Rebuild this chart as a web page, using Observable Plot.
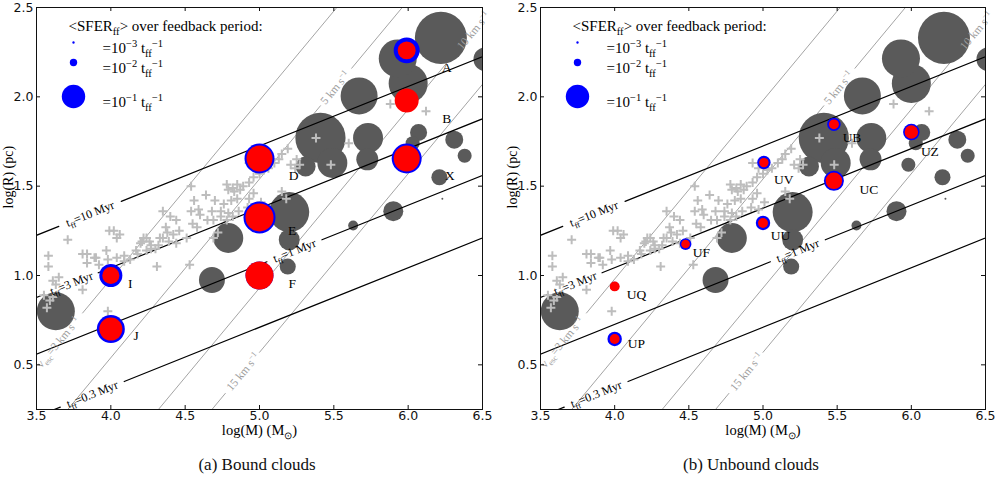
<!DOCTYPE html>
<html><head><meta charset="utf-8">
<script src="https://cdn.jsdelivr.net/npm/d3@7"></script>
<script src="https://cdn.jsdelivr.net/npm/@observablehq/plot@0.6"></script>
<style>
body{margin:0;background:#fff;}
#wrap{position:relative;width:997px;height:482px;overflow:hidden;background:#fff}
.panel{position:absolute;top:0}
.cap{position:absolute;top:455px;width:300px;text-align:center;font-family:"Liberation Serif",serif;font-size:17px;color:#111}
</style></head><body>
<div id="wrap">
<div class="panel" id="pa" style="left:0"></div>
<div class="panel" id="pb" style="left:500px"></div>
<div class="cap" style="left:107px">(a) Bound clouds</div>
<div class="cap" style="left:601px">(b) Unbound clouds</div>
</div>
<script>
// ---------- data (log M [Msun], log R [pc], SFER per t_ff) ----------
const xTicks = [3.5, 4.0, 4.5, 5.0, 5.5, 6.0, 6.5];
const yTicks = [0.5, 1.0, 1.5, 2.0, 2.5];

// simulated clouds shown as grey discs: [logM, logR, SFER]
const greyClouds = [
  [6.22, 2.33, 0.494], [5.93, 2.215, 0.264], [6.00, 2.075, 0.278], [5.67, 2.005, 0.25],
  [6.52, 2.21, 0.105], [5.41, 1.77, 0.46], [5.73, 1.77, 0.164], [5.725, 1.65, 0.088],
  [5.49, 1.63, 0.164], [5.31, 1.61, 0.073], [6.07, 1.80, 0.053], [6.03, 1.74, 0.036],
  [6.31, 1.76, 0.059], [6.38, 1.67, 0.036], [6.21, 1.55, 0.047], [5.90, 1.36, 0.073],
  [5.63, 1.28, 0.018], [6.23, 1.43, 0.0007], [5.20, 1.355, 0.292], [5.20, 1.20, 0.080],
  [5.19, 1.05, 0.047], [4.79, 1.21, 0.164], [4.68, 0.975, 0.123], [3.63, 0.80, 0.264],
  [5.98, 1.62, 0.036]
];

// observed clouds (plus markers): [logM, logR]
const observed = [
  [3.71,1.20],[3.58,1.11],[3.81,1.12],[3.84,1.07],[3.89,1.10],[3.92,1.06],[3.97,1.14],[3.98,1.09],
  [4.04,1.10],[4.09,1.11],[4.13,1.09],[4.17,1.14],[4.20,1.18],[4.22,1.21],[4.26,1.19],[4.27,1.15],
  [4.32,1.17],[4.35,1.21],[4.39,1.19],[4.42,1.23],[4.44,1.18],[4.51,1.21],[4.02,1.25],[4.06,1.23],
  [3.65,0.99],[3.61,0.97],[3.63,0.95],[3.55,0.89],[3.59,0.86],[3.57,0.82],[3.61,0.88],[3.98,0.80],
  [3.81,0.92],[4.53,1.06],[3.58,1.05],
  [4.54,1.50],[4.64,1.45],[4.78,1.51],[4.82,1.49],[4.85,1.51],[4.87,1.48],[4.83,1.47],[4.79,1.48],
  [4.89,1.50],[4.93,1.52],[4.96,1.55],[5.00,1.57],[5.03,1.59],[5.06,1.60],[5.10,1.63],[5.13,1.65],
  [5.15,1.68],[5.19,1.71],[4.93,1.43],[4.96,1.46],[5.01,1.41],[4.81,1.42],[4.85,1.43],[4.76,1.40],
  [4.56,1.42],[4.59,1.37],[4.54,1.36],[4.60,1.34],[4.35,1.36],[4.40,1.33],[4.44,1.31],[4.37,1.27],
  [3.99,1.25],[4.04,1.21],[4.74,1.36],[4.79,1.35],[4.86,1.36],[4.92,1.38],[4.97,1.37],[4.65,1.31],
  [4.69,1.31],[4.74,1.33],[4.78,1.31],[4.82,1.33],[4.55,1.29],[4.58,1.27],[4.46,1.25],[4.38,1.24],
  [4.33,1.21],[4.24,1.21],[4.21,1.19],[4.27,1.17],[4.30,1.15],[4.24,1.14],[4.18,1.12],[4.09,1.08],
  [4.31,1.05],[4.69,1.21],[4.72,1.24],[5.15,1.47],[5.18,1.43],[5.21,1.62],[4.70,1.42],[4.68,1.36],
  [5.38,1.77],[5.48,1.62],[5.60,1.74],[5.88,1.96],[6.12,1.92],[5.25,1.65],[5.27,1.62],[5.24,1.60],
  [4.93,1.63],[4.97,1.60],[3.90,1.10],[3.84,1.12]
];

// bound clouds (panel a)
const boundNames = ["A", "B", "X", "D", "E", "F", "I", "J"];
const boundM     = [5.99, 5.99, 5.99, 5.00, 5.00, 5.00, 4.00, 4.00];
const boundR     = [2.26, 1.98, 1.655, 1.655, 1.325, 1.00, 1.00, 0.70];
const boundBlue  = [0.123, 0.09, 0.164, 0.164, 0.187, 0.143, 0.097, 0.143];
const boundRed   = [0.059, 0.105, 0.123, 0.123, 0.143, 0.143, 0.053, 0.097];
const boundLabM  = [6.26, 6.26, 6.28, 5.23, 5.22, 5.22, 4.13, 4.17];
const boundLabR  = [2.163, 1.88, 1.558, 1.558, 1.25, 0.952, 0.956, 0.664];

// unbound clouds (panel b)
const unboundNames = ["UB", "UC", "UZ", "UV", "UU", "UF", "UQ", "UP"];
const unboundM     = [5.478, 5.478, 6.00, 5.006, 5.00, 4.478, 4.00, 4.00];
const unboundR     = [1.846, 1.53, 1.803, 1.632, 1.294, 1.176, 0.939, 0.645];
const unboundBlue  = [0.033, 0.073, 0.050, 0.033, 0.038, 0.025, 0.015, 0.038];
const unboundRed   = [0.018, 0.050, 0.033, 0.016, 0.018, 0.0135, 0.018, 0.018];
const unboundLabM  = [5.60, 5.714, 6.125, 5.14, 5.118, 4.584, 4.147, 4.147];
const unboundLabR  = [1.77, 1.483, 1.693, 1.539, 1.222, 1.126, 0.893, 0.62];

// free-fall time lines: logR at logM=3.5 and 6.5, label gap (logM)
const tffLabels = ["t_{ff}=10 Myr", "t_{ff}=3 Myr", "t_{ff}=1 Myr", "t_{ff}=0.3 Myr"];
const tffR35 = [1.225, 0.877, 0.56, 0.21];
const tffR65 = [2.225, 1.877, 1.56, 1.21];
const tffGap = [[3.65, 4.07], [3.555, 3.915], [5.05, 5.42], [3.66, 4.09]];

// velocity lines: logM where they cross logR=0.25 and logR=2.5, label gap and label position
const velLabels = ["v_{esc}=3 km s^{−1}", "5 km s^{−1}", "10 km s^{−1}", "15 km s^{−1}"];
const velMBot = [3.27, 3.71, 4.32, 4.68];
const velMTop = [5.52, 5.96, 6.57, 6.93];
const velGap  = [[3.40, 3.81], [5.41, 5.62], [6.32, 7.2], [4.77, 5.00]];
const velLabM = [3.646, 5.51, 6.44, 4.89];

// legend
const legendTitle = "<SFER_{ff}> over feedback period:";
const legendSFER = [0.001, 0.01, 0.1];
const legendText = ["=10^{−3} t_{ff}^{−1}", "=10^{−2} t_{ff}^{−1}", "=10^{−1} t_{ff}^{−1}"];

// ---------- layout / style ----------
const W = 497, H = 442, MT = 7, MB = 33, PH = H - MT - MB;
const SERIF = "Liberation Serif";
const legendDy = [35, 55, 89];

const tff = tffLabels.map((label, i) => ({label, r0: tffR35[i], r1: tffR65[i], gap: tffGap[i]}));
const rTff = (l, m) => l.r0 + (m - 3.5) * (l.r1 - l.r0) / 3;
const tffSegs = tff.flatMap((l, i) => [[3.3, l.gap[0]], [l.gap[1], 6.7]]
  .flatMap(([a, b], j) => [a, b].map(m => ({M: m, R: rTff(l, m), id: i + "-" + j}))));
const tffLab = tff.map(l => { const m = (l.gap[0] + l.gap[1]) / 2; return {label: l.label, M: m, R: rTff(l, m)}; });

const vel = velLabels.map((label, i) => ({label, mb: velMBot[i], mt: velMTop[i], gap: velGap[i], lm: velLabM[i]}));
const rVel = (l, m) => 0.25 + (m - l.mb) * 2.25 / (l.mt - l.mb);
const velSegs = vel.flatMap((l, i) => [[3.0, l.gap[0]], [l.gap[1], 7.2]]
  .filter(([a, b]) => b > a)
  .flatMap(([a, b], j) => [a, b].map(m => ({M: m, R: rVel(l, m), id: i + "-" + j}))));
const velLab = vel.map(l => ({label: l.label, M: l.lm, R: rVel(l, l.lm)}));

const grey = greyClouds.map(([M, R, s]) => ({M, R, s}));
const obs = observed.map(([M, R]) => ({M, R}));

function pts(names, M, R, B, Rd, LM, LR) {
  return names.map((n, i) => ({n, M: M[i], R: R[i], blue: B[i], red: Rd[i], lm: LM[i], lr: LR[i]}));
}
const bound = pts(boundNames, boundM, boundR, boundBlue, boundRed, boundLabM, boundLabR);
const unbound = pts(unboundNames, unboundM, unboundR, unboundBlue, unboundRed, unboundLabM, unboundLabR);

function panel(ml, mr, clouds) {
  const PW = W - ml - mr;
  const ang = (slope) => -Math.atan(slope * (PH / 2.25) / (PW / 3)) * 180 / Math.PI;
  const marks = [
    Plot.line(velSegs, {x: "M", y: "R", z: "id", stroke: "#a4a4a4", strokeWidth: 1, clip: true}),
    Plot.dot(grey, {x: "M", y: "R", r: "s", fill: "#5a5a5a", clip: true}),
    Plot.line(tffSegs, {x: "M", y: "R", z: "id", stroke: "#000", strokeWidth: 1.2, clip: true}),
    Plot.dot(obs, {x: "M", y: "R", symbol: "plus", r: 3, stroke: "#bdbdbd", strokeWidth: 2}),
    Plot.dot(clouds, {x: "M", y: "R", r: "blue", fill: "#0000ff"}),
    Plot.dot(clouds, {x: "M", y: "R", r: "red", fill: "#ff0000"}),
    Plot.text(tffLab, {x: "M", y: "R", text: "label", rotate: ang(1 / 3), fontFamily: SERIF, fontSize: 12, fill: "#000"}),
    Plot.text(velLab, {x: "M", y: "R", text: "label", rotate: ang(1), fontFamily: SERIF, fontSize: 11.5, fill: "#9c9c9c"}),
    Plot.text(clouds, {x: "lm", y: "lr", text: "n", fontFamily: SERIF, fontSize: 13.5, fill: "#000"}),
    Plot.text([legendTitle], {text: d => d, frameAnchor: "top-left", dx: 32, dy: 13, textAnchor: "start", fontFamily: SERIF, fontSize: 15, fill: "#000"}),
    ...legendSFER.map((v, i) => Plot.dot([v], {r: d => d, frameAnchor: "top-left", dx: 37, dy: legendDy[i], fill: "#0000ff"})),
    ...legendText.map((t, i) => Plot.text([t], {text: d => d, frameAnchor: "top-left", dx: 66, dy: legendDy[i], textAnchor: "start", fontFamily: SERIF, fontSize: 15, fill: "#000"})),
    Plot.frame({stroke: "#111", strokeWidth: 1}),
    Plot.tickX(xTicks, {x: d => d, insetTop: PH - 4, stroke: "#111"}),
    Plot.tickX(xTicks, {x: d => d, insetBottom: PH - 4, stroke: "#111"}),
    Plot.tickY(yTicks, {y: d => d, insetRight: PW - 4, stroke: "#111"}),
    Plot.tickY(yTicks, {y: d => d, insetLeft: PW - 4, stroke: "#111"}),
    Plot.axisX({ticks: xTicks, tickSize: 0, tickPadding: 2, tickFormat: d3.format(".1f"), label: null}),
    Plot.axisY({ticks: yTicks, tickSize: 0, tickPadding: 3, tickFormat: d3.format(".1f"), label: null}),
    Plot.text(["log(M) (M_{⊙})"], {text: d => d, frameAnchor: "bottom", dy: 25, fontFamily: SERIF, fontSize: 14.5, fill: "#000"}),
    Plot.text(["log(R) (pc)"], {text: d => d, frameAnchor: "left", dx: -28, rotate: -90, fontFamily: SERIF, fontSize: 14, fill: "#000"})
  ];
  return Plot.plot({
    width: W, height: H, marginLeft: ml, marginRight: mr, marginTop: MT, marginBottom: MB,
    x: {domain: [3.5, 6.5]},
    y: {domain: [0.25, 2.5]},
    r: {type: "sqrt", domain: [0, 0.1], range: [0, 11.7]},
    style: {fontFamily: "DejaVu Sans", fontSize: "12.5px", color: "#111", background: "#fff", overflow: "visible"},
    marks
  });
}

// convert _{..} / ^{..} markup into sub/superscript tspans
function richify(svg) {
  const NS = "http://www.w3.org/2000/svg";
  svg.querySelectorAll("text").forEach(t => {
    const s = t.textContent;
    if (!/[_^]\{/.test(s)) return;
    const fs = parseFloat(getComputedStyle(t).fontSize) || 12;
    const parts = []; let buf = ""; let i = 0;
    while (i < s.length) {
      if ((s[i] === "_" || s[i] === "^") && s[i + 1] === "{") {
        if (buf) parts.push({txt: buf, mode: 0}); buf = "";
        const end = s.indexOf("}", i);
        parts.push({txt: s.slice(i + 2, end), mode: s[i] === "_" ? 1 : -1});
        i = end + 1;
      } else { buf += s[i]; i++; }
    }
    if (buf) parts.push({txt: buf, mode: 0});
    while (t.firstChild) t.removeChild(t.firstChild);
    let cur = 0;
    for (const p of parts) {
      const ts = document.createElementNS(NS, "tspan");
      const target = p.mode === 1 ? 0.28 * fs : p.mode === -1 ? -0.38 * fs : 0;
      if (target !== cur) ts.setAttribute("dy", (target - cur).toFixed(2));
      cur = target;
      if (p.mode) ts.setAttribute("font-size", (0.7 * fs).toFixed(2));
      ts.textContent = p.txt;
      t.appendChild(ts);
    }
  });
}

const a = panel(36, 15, bound);
document.getElementById("pa").appendChild(a);
richify(a);
const b = panel(40, 12, unbound);
document.getElementById("pb").appendChild(b);
richify(b);
</script>
</body></html>
